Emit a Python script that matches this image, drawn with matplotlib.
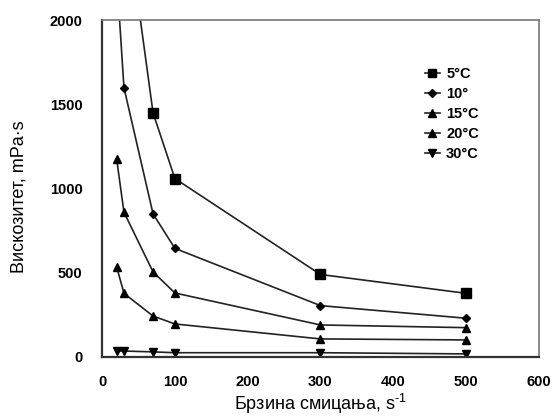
import matplotlib
matplotlib.use('Agg')
import matplotlib.pyplot as plt

plt.rcParams.update({
    'font.family': ['Liberation Sans', 'DejaVu Sans'],
    'font.size': 10,
    'mathtext.fontset': 'custom',
    'mathtext.rm': 'Liberation Sans',
})

# shear rate, s^-1
shear = [20, 30, 70, 100, 300, 500]

# viscosity, mPa·s  (points above 2000 are clipped by the axis, as in the original)
visc_5 = [3400, 2720, 1450, 1060, 490, 378]
visc_10 = [2270, 1600, 850, 645, 305, 230]
visc_15 = [1175, 860, 505, 380, 190, 174]
visc_20 = [535, 378, 243, 196, 107, 101]
visc_30 = [35, 35, 30, 25, 25, 18]

labels = ['5°C', '10°', '15°C', '20°C', '30°C']
markers = ['s', 'D', '^', '^', 'v']
sizes = [6.5, 4.5, 6, 6, 6]

fig = plt.figure(figsize=(5.52, 4.16), dpi=100)
ax = fig.add_axes([0.185, 0.142, 0.791, 0.809])

for y, lab, m, ms in zip([visc_5, visc_10, visc_15, visc_20, visc_30], labels, markers, sizes):
    ax.plot(shear, y, color='#222222', lw=1.2, marker=m, ms=ms,
            mfc='black', mec='black', label=lab)

ax.set_xlim(0, 600)
ax.set_ylim(0, 2000)
ax.set_xticks(range(0, 601, 100))
ax.set_yticks(range(0, 2001, 500))
ax.tick_params(axis='x', length=0, pad=13)
ax.tick_params(axis='y', length=0, pad=14)
for t in ax.get_xticklabels() + ax.get_yticklabels():
    t.set_fontweight('bold')
    t.set_fontsize(10.5)

for s in ['left', 'bottom']:
    ax.spines[s].set_color('#333333')
    ax.spines[s].set_linewidth(1.6)
for s in ['top', 'right']:
    ax.spines[s].set_color('#777777')
    ax.spines[s].set_linewidth(1.2)

ax.set_xlabel('Брзина смицања, s$^{\\text{-1}}$', fontsize=13, labelpad=2)
ax.set_ylabel('Вискозитет, mPa·s', fontsize=13)
ax.yaxis.set_label_coords(-0.172, 0.475)

leg = fig.legend(loc='upper left', bbox_to_anchor=(0.770, 0.838), frameon=False,
                 borderpad=0, borderaxespad=0, markerscale=0.85,
                 handlelength=1.0, handletextpad=0.45, labelspacing=0.4,
                 prop={'weight': 'bold', 'size': 10.5})

fig.savefig('out.png', dpi=100)
